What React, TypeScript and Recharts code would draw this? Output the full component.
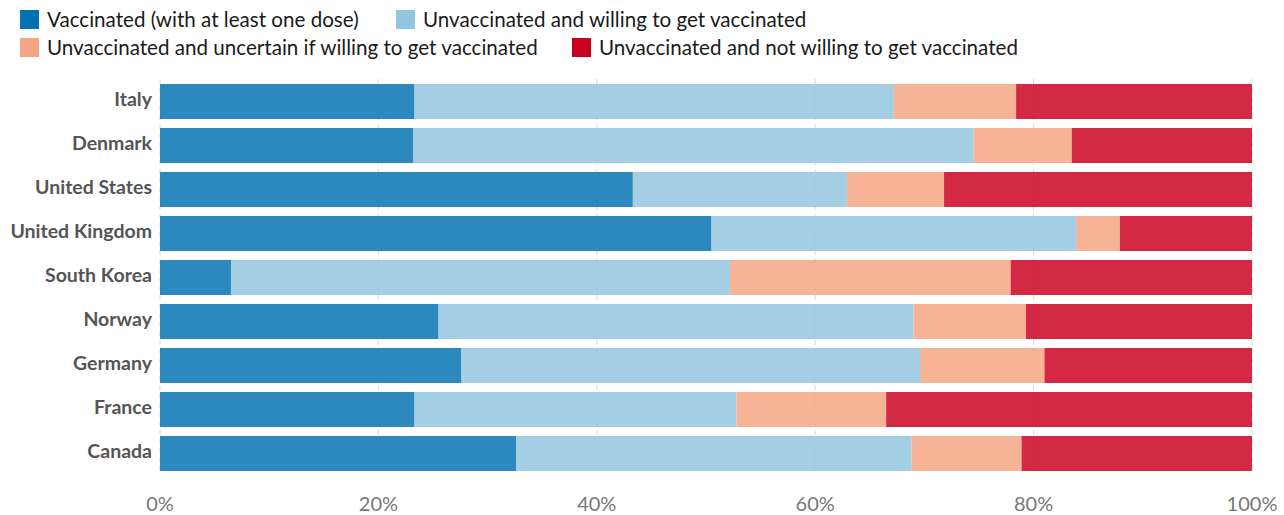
import React from "react";
import { BarChart, Bar, XAxis, YAxis, CartesianGrid } from "recharts";

const countries = ["Italy", "Denmark", "United States", "United Kingdom", "South Korea", "Norway", "Germany", "France", "Canada"];
const vaccinated = [23.3, 23.2, 43.3, 50.5, 6.5, 25.5, 27.6, 23.3, 32.6];
const willing = [43.9, 51.3, 19.6, 33.4, 45.7, 43.5, 42.0, 29.5, 36.2];
const uncertain = [11.2, 9.0, 8.9, 4.0, 25.7, 10.3, 11.4, 13.7, 10.1];
const notWilling = [21.6, 16.5, 28.2, 12.1, 22.1, 20.7, 19.0, 33.5, 21.1];

const seriesNames = [
  "Vaccinated (with at least one dose)",
  "Unvaccinated and willing to get vaccinated",
  "Unvaccinated and uncertain if willing to get vaccinated",
  "Unvaccinated and not willing to get vaccinated",
];
const seriesKeys = ["vaccinated", "willing", "uncertain", "notWilling"];
const colors = ["#0571b0", "#92c5de", "#f4a582", "#ca0020"];
const xTicks = [0, 20, 40, 60, 80, 100];

const data = countries.map((c, i) => ({
  country: c,
  vaccinated: vaccinated[i],
  willing: willing[i],
  uncertain: uncertain[i],
  notWilling: notWilling[i],
}));

const legendPos = [
  { left: 20, top: 10 },
  { left: 396, top: 10 },
  { left: 20, top: 38 },
  { left: 572, top: 38 },
];

export default function App() {
  const font = "Lato, 'Open Sans', sans-serif";
  return (
    <div style={{ position: "absolute", left: 0, top: 0, width: 1284, height: 515, background: "#fff", fontFamily: font }}>
      {seriesNames.map((n, i) => (
        <div
          key={n}
          style={{
            position: "absolute",
            left: legendPos[i].left,
            top: legendPos[i].top,
            display: "flex",
            alignItems: "center",
            height: 19,
            whiteSpace: "nowrap",
          }}
        >
          <div style={{ width: 19, height: 19, background: colors[i], marginRight: 8 }} />
          <span style={{ fontSize: 20.6, color: "#1a1a1a", lineHeight: "19px" }}>{n}</span>
        </div>
      ))}
      <div style={{ position: "absolute", left: 0, top: 0 }}>
        <BarChart
          width={1284}
          height={515}
          data={data}
          layout="vertical"
          margin={{ top: 79, right: 32, bottom: 0, left: 0 }}
          barSize={35}
        >
          <CartesianGrid horizontal={false} vertical={true} stroke="#d8d8d8" strokeDasharray="5 4" />
          <XAxis
            type="number"
            domain={[0, 100]}
            ticks={xTicks}
            tickFormatter={(v) => `${v}%`}
            axisLine={false}
            tickLine={false}
            height={40}
            tick={{ fill: "#777", fontSize: 20, fontFamily: font }}
            tickMargin={16}
            interval={0}
          />
          <YAxis
            type="category"
            dataKey="country"
            width={160}
            axisLine={false}
            tickLine={false}
            tick={{ fill: "#555", fontSize: 19.5, fontWeight: 700, fontFamily: font, dy: -2 }}
          />
          {seriesKeys.map((k, i) => (
            <Bar
              key={k}
              dataKey={k}
              stackId="a"
              fill={colors[i]}
              fillOpacity={0.84}
              isAnimationActive={false}
            />
          ))}
        </BarChart>
      </div>
    </div>
  );
}
